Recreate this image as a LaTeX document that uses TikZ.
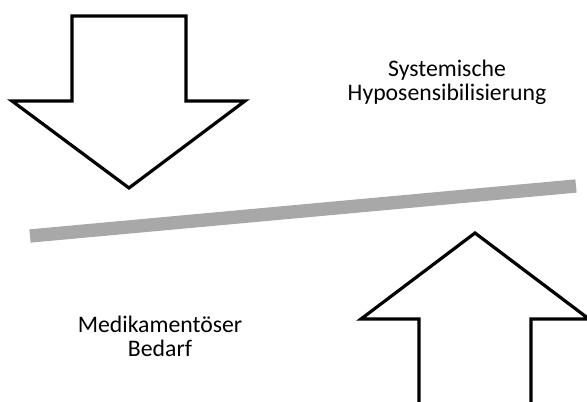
\documentclass[tikz,border=0pt]{standalone}
\usepackage{fontspec}
\setmainfont{Carlito}
\begin{document}
\begin{tikzpicture}[x=0.75pt,y=-0.75pt,
  bigarrow/.style={draw=black,line width=2.4pt,fill=white,line join=miter},
  lbl/.style={anchor=base,font=\fontsize{17.8pt}{18pt}\selectfont,inner sep=0pt}]
\useasboundingbox (0,0) rectangle (587,402);
\clip (0,0) rectangle (587,402);
% down arrow
\draw[bigarrow] (72,16) -- (186,16) -- (186,101) -- (245,101) -- (129,188) -- (12,101) -- (72,101) -- cycle;
% up arrow
\draw[bigarrow] (419,410) -- (419,319) -- (361,319) -- (475,233) -- (589,319) -- (531,319) -- (531,410);
% balance bar
\coordinate (bl) at (30,236);
\coordinate (br) at (576,186);
\draw[line width=10pt,color=black!34] (bl) -- (br);
\node[lbl] (sys1) at (447,77) {Systemische};
\node[lbl] (sys2) at (447,101) {Hyposensibilisierung};
\node[lbl] (med1) at (160,333) {Medikamentöser};
\node[lbl] (med2) at (160,357) {Bedarf};
\end{tikzpicture}
\end{document}
